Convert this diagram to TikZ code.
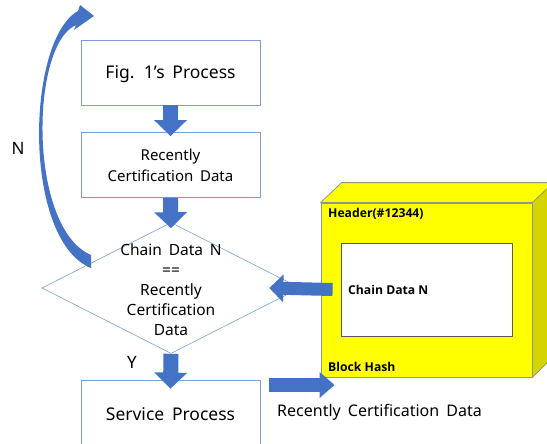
\documentclass[tikz,border=0pt]{standalone}
\usepackage{fontspec}
\setmainfont{Noto Sans}[WordSpace=1.7]
\newfontfamily\cubefont{Open Sans}
\usetikzlibrary{shapes.geometric,arrows.meta}
\definecolor{arrowblue}{HTML}{4472C4}
\definecolor{lineblue}{HTML}{7A9CD8}
\definecolor{cubeface}{HTML}{FFFF00}
\definecolor{cubeside}{HTML}{D4D400}
\definecolor{cubeedge}{HTML}{8C9A80}
\begin{document}
\begin{tikzpicture}[x=1pt,y=-1pt,
  procbox/.style={draw=lineblue, line width=0.8pt, fill=white, minimum width=179pt,
    minimum height=65pt, inner sep=0pt, align=center},
  decision/.style={diamond, draw=lineblue, line width=0.6pt, minimum width=258pt,
    minimum height=131pt, inner sep=0pt},
  flowarrow/.style={draw=arrowblue, line width=15pt, -{Triangle[length=16pt,width=32pt]}},
  sidearrow/.style={draw=arrowblue, line width=13pt, -{Triangle[length=14pt,width=27pt]}},
  plain/.style={inner sep=0pt, align=center},
  cubetext/.style={inner sep=0pt, anchor=west, font=\cubefont\bfseries\fontsize{12.2}{14}\selectfont},
]
\useasboundingbox (0,0) rectangle (547,444);
\clip (0,0) rectangle (547,444);

% process boxes
\node[procbox] (fig1) at (170.5,72.5) {};
\node[plain, font=\fontsize{17.5}{20}\selectfont] (fig1text) at (170.5,74) {Fig. 1’s Process};
\node[procbox, font=\fontsize{15}{21}\selectfont] (recent) at (170.5,165) {Recently\\Certification Data};
\node[procbox, minimum height=68pt] (service) at (170.5,414) {};
\node[plain, font=\fontsize{17.5}{20}\selectfont] (servicetext) at (service.center) {Service Process};

% decision
\node[decision] (check) at (171,288) {};
\node[plain, font=\fontsize{15.5}{20}\selectfont] (checktext) at (171,289.5)
  {Chain Data N\\==\\Recently\\Certification\\Data};

% block (cube)
\node[draw=cubeedge, line width=0.8pt, fill=cubeface, minimum width=211pt, minimum height=174pt,
  inner sep=0pt] (block) at (426.5,290) {};
\fill[cubeface, draw=cubeedge, line width=0.8pt, line join=round]
  (block.north west) -- ++(21,-20) -- ++(240,0) -- ([xshift=240pt]block.north west) -- cycle;
\fill[cubeside, draw=cubeedge, line width=0.8pt, line join=round]
  (block.north east) -- ++(21,-20) -- ++(0,174) -- (block.south east) -- cycle;
\node[draw=black!65, line width=0.6pt, fill=white, minimum width=171pt, minimum height=93pt,
  inner sep=0pt] (chain) at (426.5,289.5) {};
\node[cubetext] (header) at (328,214) {Header(\#12344)};
\node[cubetext] (chaintext) at (348,290) {Chain Data N};
\node[cubetext] (hash) at (328,367) {Block Hash};

% flow arrows
\draw[flowarrow] (fig1.south) -- ([yshift=-4pt]recent.north);
\draw[flowarrow] (recent.south) -- ([yshift=-6pt]check.north);
\draw[flowarrow] (check.south) -- ([yshift=-9pt]service.north);
\draw[sidearrow] ([xshift=12pt]block.west |- chain.west) -- ([xshift=-31pt]check.east);
\coordinate (outstart) at (269,385);
\draw[draw=arrowblue, line width=14pt, -{Triangle[length=15pt,width=25pt]}]
  (outstart) -- ([xshift=14pt]block.west |- outstart);
\node[plain, font=\fontsize{16}{17}\selectfont, anchor=west] (outtext) at (277,412)
  {Recently Certification Data};

% loop back arrow
\fill[arrowblue] (91,268) .. controls (22,240) and (26,40) .. (78,11)
  -- (80,5) -- (94,16) -- (74,30) -- (76,25)
  .. controls (30,45) and (28,228) .. (91,255) -- cycle;

% branch labels
\node[plain, font=\fontsize{17}{18}\selectfont] (nlabel) at (18,148) {N};
\node[plain, font=\fontsize{17}{18}\selectfont] (ylabel) at (132,362) {Y};
\end{tikzpicture}
\end{document}
